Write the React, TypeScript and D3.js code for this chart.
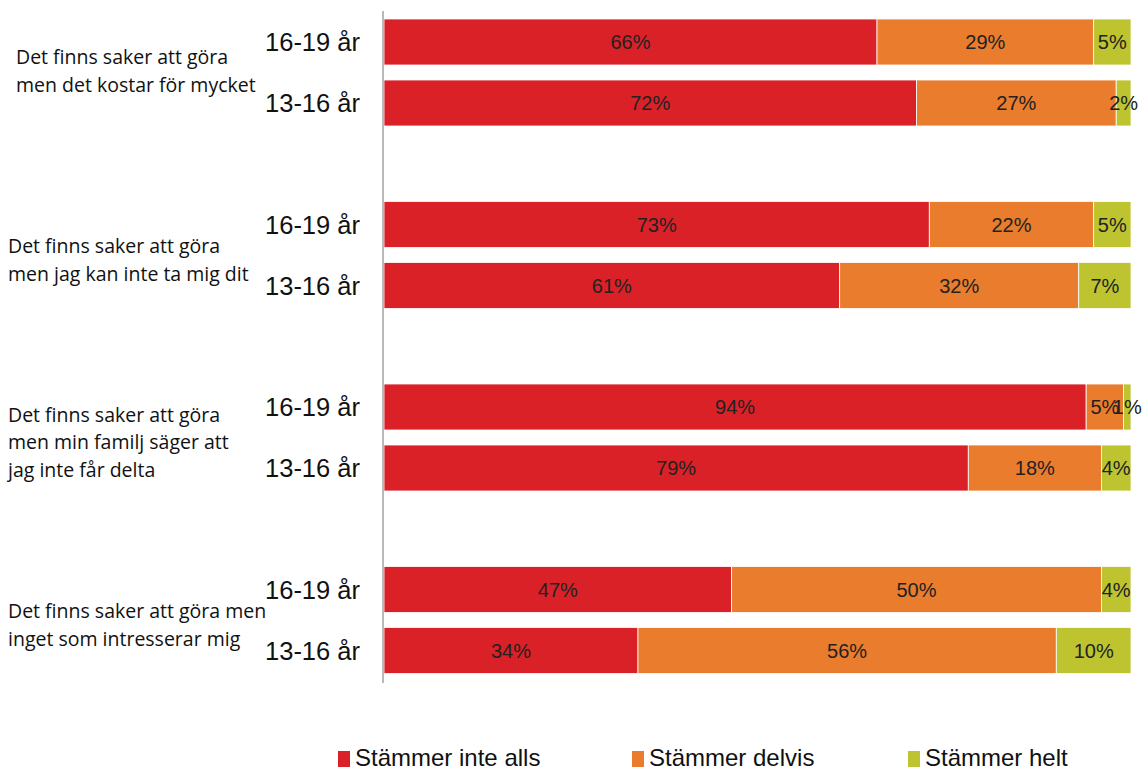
import React from "react";
import * as d3 from "d3";

const categories = [
  ["Det finns saker att göra", "men det kostar för mycket"],
  ["Det finns saker att göra", "men jag kan inte ta mig dit"],
  ["Det finns saker att göra", "men min familj säger att", "jag inte får delta"],
  ["Det finns saker att göra men", "inget som intresserar mig"],
];
const ages = ["16-19 år", "13-16 år"];
const seriesNames = ["Stämmer inte alls", "Stämmer delvis", "Stämmer helt"];
const colors = ["#DA2128", "#E97C2D", "#BDC42F"];

// values per category: [16-19 år, 13-16 år], each [inte alls, delvis, helt]
const inteAlls = [[66, 72], [73, 61], [94, 79], [47, 34]];
const delvis = [[29, 27], [22, 32], [5, 18], [50, 56]];
const helt = [[5, 2], [5, 7], [1, 4], [4, 10]];

const W = 1144, H = 767;
const x0 = 384, x1 = 1131;
const groupTop = 19, groupPitch = 182.5, rowPitch = 61, barH = 46;
const catX = [16, 8, 8, 8];
const catDy = [-2.5, 4, 4, 4];

export default function App() {
  const x = d3.scaleLinear().domain([0, 1]).range([x0, x1]);
  const rows: any[] = [];
  categories.forEach((c, gi) => {
    ages.forEach((a, ai) => {
      const vals = [inteAlls[gi][ai], delvis[gi][ai], helt[gi][ai]];
      const total = d3.sum(vals);
      let acc = 0;
      const segs = vals.map((v, si) => {
        const s = { start: acc / total, end: (acc + v) / total, v, si };
        acc += v;
        return s;
      });
      rows.push({ gi, ai, age: a, segs, y: groupTop + gi * groupPitch + ai * rowPitch });
    });
  });
  const legendX = [338, 632, 908];
  return (
    <svg width={W} height={H} style={{ position: "absolute", left: 0, top: 0, background: "#fff" }}
      fontFamily="'Liberation Sans', Arial, sans-serif">
      {rows.map((r, i) => (
        <g key={i}>
          {r.segs.map((s: any) => (
            <rect key={s.si} x={x(s.start)} y={r.y} width={x(s.end) - x(s.start)} height={barH}
              fill={colors[s.si]} stroke="#fff" strokeWidth={0.8} />
          ))}
          {r.segs.map((s: any) => (
            <text key={"t" + s.si} x={(x(s.start) + x(s.end)) / 2} y={r.y + barH / 2} dy="0.36em"
              textAnchor="middle" fontSize={20} fill="#222">{s.v}%</text>
          ))}
          <text x={360} y={r.y + barH / 2} dy="0.36em" textAnchor="end" fontSize={25.5} fill="#111">{r.age}</text>
        </g>
      ))}
      <line x1={383} x2={383} y1={11} y2={683} stroke="#8a8a8a" strokeWidth={1.2} />
      {categories.map((lines, gi) => {
        const cy = groupTop + gi * groupPitch + (rowPitch + barH) / 2 + 1 + catDy[gi];
        const lh = 27.5;
        const startY = cy - ((lines.length - 1) * lh) / 2;
        return (
          <text key={gi} fontFamily="'Open Sans', sans-serif" fontSize={19.5} fill="#111">
            {lines.map((l, li) => (
              <tspan key={li} x={catX[gi]} y={startY + li * lh} dy="0.35em">{l}</tspan>
            ))}
          </text>
        );
      })}
      {seriesNames.map((n, i) => (
        <g key={n}>
          <rect x={legendX[i]} y={751} width={12} height={16} fill={colors[i]} />
          <text x={legendX[i] + 17} y={766} fontSize={24} fill="#111">{n}</text>
        </g>
      ))}
    </svg>
  );
}
